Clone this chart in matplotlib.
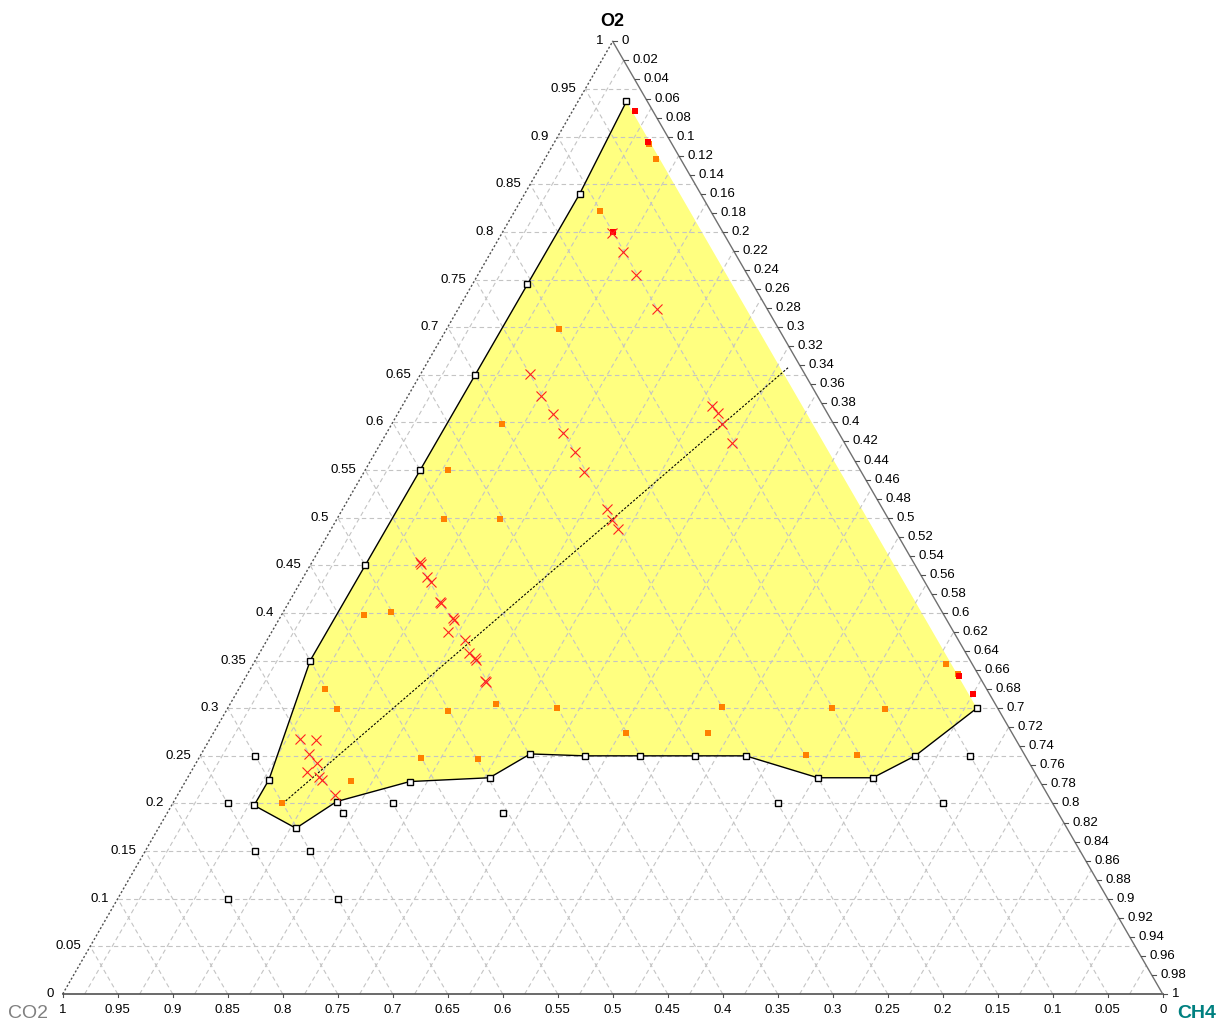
import numpy as np
import matplotlib.pyplot as plt

# datos ternarios: (O2, CH4) en fracciones, CO2 = 1 - O2 - CH4
limite_o2 = [0.937, 0.84, 0.745, 0.65, 0.55, 0.45, 0.35, 0.225, 0.198, 0.174, 0.202,
             0.223, 0.227, 0.252, 0.25, 0.25, 0.25, 0.25, 0.227, 0.227, 0.25, 0.30]
limite_ch4 = [0.044, 0.05, 0.05, 0.05, 0.05, 0.05, 0.05, 0.075, 0.075, 0.125, 0.148,
              0.204, 0.2745, 0.299, 0.35, 0.40, 0.45, 0.496, 0.573, 0.623, 0.65, 0.681]

fuera_o2 = [0.25, 0.20, 0.15, 0.15, 0.10, 0.10, 0.19, 0.20, 0.19, 0.20, 0.20, 0.25]
fuera_ch4 = [0.05, 0.05, 0.10, 0.15, 0.10, 0.20, 0.16, 0.20, 0.305, 0.55, 0.70, 0.70]

naranja_o2 = [0.892, 0.877, 0.822, 0.698, 0.598, 0.550, 0.499, 0.499, 0.401, 0.398,
              0.320, 0.299, 0.297, 0.304, 0.300, 0.301, 0.300, 0.299, 0.274, 0.274,
              0.248, 0.247, 0.251, 0.251, 0.224, 0.200, 0.346, 0.336]
naranja_ch4 = [0.087, 0.101, 0.077, 0.102, 0.100, 0.075, 0.097, 0.148, 0.098, 0.075,
               0.078, 0.100, 0.202, 0.242, 0.299, 0.449, 0.549, 0.598, 0.375, 0.450,
               0.202, 0.254, 0.550, 0.597, 0.150, 0.099, 0.630, 0.646]

rojo_o2 = [0.927, 0.894, 0.800, 0.334, 0.315]
rojo_ch4 = [0.057, 0.085, 0.100, 0.648, 0.670]

cruz_o2 = [0.799, 0.779, 0.755, 0.719, 0.651, 0.628, 0.609, 0.589, 0.569, 0.548,
           0.509, 0.498, 0.488, 0.617, 0.610, 0.598, 0.578, 0.451, 0.454, 0.438,
           0.432, 0.410, 0.412, 0.393, 0.395, 0.380, 0.372, 0.358, 0.351, 0.353,
           0.327, 0.329, 0.268, 0.267, 0.252, 0.243, 0.233, 0.228, 0.225, 0.209]
cruz_ch4 = [0.100, 0.120, 0.144, 0.181, 0.099, 0.121, 0.141, 0.160, 0.181, 0.200,
            0.240, 0.250, 0.261, 0.282, 0.291, 0.300, 0.319, 0.100, 0.098, 0.112,
            0.119, 0.139, 0.137, 0.159, 0.157, 0.160, 0.180, 0.190, 0.200, 0.198,
            0.221, 0.219, 0.082, 0.097, 0.098, 0.110, 0.106, 0.119, 0.123, 0.143]

linea_o2 = [0.20, 0.658]
linea_ch4 = [0.10, 0.331]

ticks_izq = np.round(np.arange(0, 1.001, 0.05), 2)
ticks_der = np.round(np.arange(0, 1.001, 0.02), 2)
ticks_abajo = np.round(np.arange(0, 1.001, 0.05), 2)
grid_ch4 = np.round(np.arange(0.02, 1.0, 0.05), 2)

H = np.sqrt(3) / 2
PX = 1 / 1100.0


def a_xy(o2, ch4):
    o2 = np.asarray(o2, dtype=float)
    ch4 = np.asarray(ch4, dtype=float)
    return ch4 + 0.5 * o2, H * o2


plt.rcParams['font.family'] = ['Liberation Sans', 'DejaVu Sans']
fig = plt.figure(figsize=(12.23, 10.23), dpi=100)
ax = fig.add_axes([0, 0, 1, 1])
ax.set_xlim(-62.7 * PX, (1223 - 62.7) * PX)
ax.set_ylim(-(1023 - 994) * PX, 994 * PX)
ax.axis('off')

# relleno amarillo de la zona
px, py = a_xy(limite_o2, limite_ch4)
ax.fill(px, py, color='#ffff80', lw=0, zorder=0)

# rejilla
gkw = dict(color='#c4c4c4', lw=0.8, ls=(0, (4, 3)), zorder=1)
for o in ticks_izq[1:-1]:
    x, y = a_xy([o, o], [0, 1 - o])
    ax.plot(x, y, **gkw)
for c in ticks_abajo[1:-1]:
    x, y = a_xy([0, 1 - c], [1 - c, 0])
    ax.plot(x, y, **gkw)
for m in grid_ch4:
    x, y = a_xy([0, 1 - m], [m, m])
    ax.plot(x, y, **gkw)

# bordes del triangulo
ax.plot([0, 1], [0, 0], color='#505050', lw=1.2, zorder=2)
ax.plot([1, 0.5], [0, H], color='#707070', lw=1.0, zorder=2)
ax.plot([0, 0.5], [0, H], color='#505050', lw=1.0, ls=(0, (1.5, 1.5)), zorder=2)

# etiquetas de los ejes
for o in ticks_izq:
    x, y = a_xy(o, 0)
    ax.text(x - 9 * PX, y, '%g' % o, ha='right', va='center', fontsize=9.5)
for m in ticks_der:
    x, y = a_xy(1 - m, m)
    ax.plot([x, x + 4 * PX], [y, y], color='#505050', lw=0.8)
    ax.text(x + 9 * PX, y, '%g' % m, ha='left', va='center', fontsize=9.5)
for c in ticks_abajo:
    x = 1 - c
    ax.plot([x, x], [0, -3 * PX], color='#505050', lw=0.8)
    ax.text(x, -16 * PX, '%g' % c, ha='center', va='center', fontsize=9.5)

ax.text(0.5, 973 * PX, 'O2', ha='center', va='center', fontsize=13, fontweight='bold')
ax.text(-35 * PX, -19 * PX, 'CO2', ha='center', va='center', fontsize=14, color='#808080')
ax.text(1134 * PX, -19 * PX, 'CH4', ha='center', va='center', fontsize=14,
        color='#008080', fontweight='bold')

# limite de la zona
ax.plot(px, py, color='black', lw=1.0, zorder=3)
ax.plot(px, py, ls='none', marker='s', ms=4.8, mfc='white', mec='black', mew=1.0, zorder=5)
x, y = a_xy(fuera_o2, fuera_ch4)
ax.plot(x, y, ls='none', marker='s', ms=4.8, mfc='white', mec='black', mew=1.0, zorder=5)

# linea de mezcla
x, y = a_xy(linea_o2, linea_ch4)
ax.plot(x, y, color='black', lw=0.8, ls=(0, (2, 1.5)), zorder=4)

x, y = a_xy(naranja_o2, naranja_ch4)
ax.plot(x, y, ls='none', marker='s', ms=4.6, color='#ff8000', mew=0, zorder=5)
x, y = a_xy(rojo_o2, rojo_ch4)
ax.plot(x, y, ls='none', marker='s', ms=4.6, color='#ff0000', mew=0, zorder=5)
x, y = a_xy(cruz_o2, cruz_ch4)
ax.plot(x, y, ls='none', marker='x', ms=7.5, color='#ff2020', mew=0.8, zorder=6)

fig.savefig('out.png', dpi=100)
